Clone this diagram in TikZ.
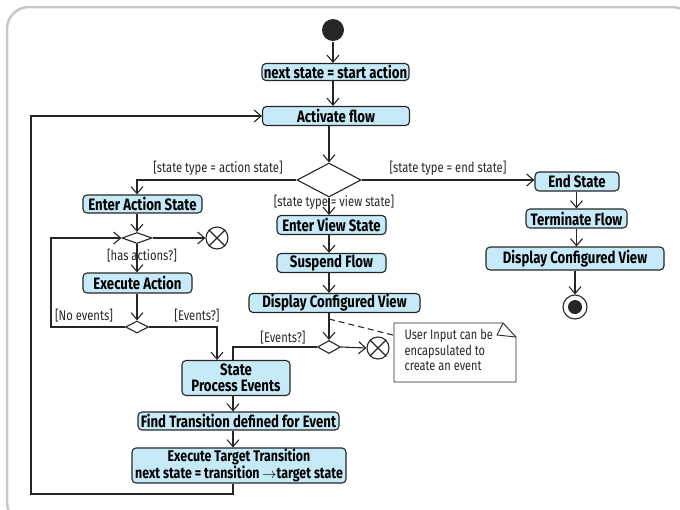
\documentclass[tikz,border=0pt]{standalone}
\usepackage{fontspec}
\setmainfont{Fira Sans}[FakeStretch=0.8]
\usetikzlibrary{shapes.geometric,arrows.meta,calc}
\definecolor{actblue}{HTML}{C6EAF8}
\definecolor{lineclr}{HTML}{262626}
\definecolor{framegray}{HTML}{C8C8C8}

\begin{document}
\begin{tikzpicture}[
  x = 1pt, y = -1pt,
  line width = 1.1pt,
  act/.style = {draw=lineclr, fill=actblue, rounded corners=4pt, inner sep=0pt,
    minimum height=19pt, align=center, font=\fontsize{16.5}{15.5}\selectfont\bfseries},
  dec/.style = {draw=lineclr, fill=white, diamond, inner sep=0pt},
  flowend/.style = {draw=lineclr, fill=white, circle, minimum size=22pt, inner sep=0pt},
  guard/.style = {font=\fontsize{14}{14}\selectfont, text=lineclr, inner sep=1pt},
  arr/.style = {draw=lineclr, -{Straight Barb[length=7pt,width=12pt]}}
]
\useasboundingbox (0,0) rectangle (680,509);

% frame
\draw[framegray, line width=2.5pt, rounded corners=22pt] (7,7) rectangle (694,524);

% start and initial actions
\node[circle, fill=lineclr, minimum size=22pt, inner sep=0pt] (start) at (333,30) {};
\node[act, minimum width=147pt, minimum height=17pt] (nsa) at (335.5,72) {next state = start action};
\node[act, minimum width=147pt] (activate) at (336,116) {Activate flow};
\node[dec, minimum width=64pt, minimum height=34pt] (dec) at (329,180) {};

% action state branch
\node[act, minimum width=119pt, minimum height=18pt] (enteraction) at (142.5,204) {Enter Action State};
\node[dec, minimum width=30pt, minimum height=11pt] (d1) at (137,238) {};
\node[flowend] (stop1) at (217,238) {};
\node[act, minimum width=109pt, minimum height=20pt] (execaction) at (137.5,283) {Execute Action};
\node[dec, minimum width=23pt, minimum height=12pt] (d2) at (137,327) {};

% view state branch
\node[act, minimum width=109pt] (enterview) at (331.5,225) {Enter View State};
\node[act, minimum width=109pt] (suspend) at (331.5,263) {Suspend Flow};
\node[act, minimum width=171pt] (displayv) at (334.5,303) {Display Configured View};
\node[dec, minimum width=23pt, minimum height=13pt] (d3) at (329,347) {};
\node[flowend] (stop2) at (378,348) {};

% events
\node[act, minimum width=108pt, minimum height=35pt] (process) at (236,378) {State\\Process Events};
\node[act, minimum width=201pt, minimum height=18pt] (findtr) at (238.5,421) {Find Transition defined for Event};
\node[act, minimum width=214pt, minimum height=35pt, font=\fontsize{15.5}{15.5}\selectfont\bfseries] (exectr) at (239,465.5)
  {Execute Target Transition\\next state = transition\,$\rightarrow$target state};

% end state branch
\node[act, minimum width=84pt] (endst) at (577,181.5) {End State};
\node[act, minimum width=101pt] (termf) at (576.5,218.5) {Terminate Flow};
\node[act, minimum width=178pt, minimum height=23pt] (displaye) at (575,258.5) {Display Configured View};
\node[circle, draw=lineclr, fill=white, minimum size=24pt, inner sep=0pt] (endc) at (575,307) {};
\fill[lineclr] (endc) circle (7pt);

% note
\node[align=left, anchor=north west, inner sep=0pt, font=\fontsize{13.8}{15.5}\selectfont, text=lineclr]
  (notetxt) at (404,329) {User Input can be\\encapsulated to\\create an event};
\coordinate (note) at (394,323);
\draw[lineclr, line width=0.9pt] (note) -- (503,323) -- (516,337) -- (516,382) -- (394,382) -- cycle;
\draw[lineclr, line width=0.9pt] (503,323) -- (497,335) -- (516,337);

% stop crosses
\foreach \s in {stop1, stop2}
  \draw[lineclr] (\s.45) -- (\s.225) (\s.135) -- (\s.315);

% connectors
\coordinate (pc) at (233,0);
\coordinate (lefta) at (51,327);
\coordinate (loopb) at (31,494);
\draw[arr] (start) -- (start |- nsa.north);
\draw[arr] (start |- nsa.south) -- (start |- activate.north);
\draw[arr] (dec.north |- activate.south) -- (dec.north);
\draw[arr] (dec.west) -| (d1 |- enteraction.north);
\draw[arr] (d1 |- enteraction.south) -- (d1.north);
\draw[arr] (d1.east) -- (stop1.west);
\draw[arr] (d1.south) -- (d1 |- execaction.north);
\draw[arr] (d1 |- execaction.south) -- (d2.north);
\draw[arr] (d2.west) -- (lefta) |- (d1.west);
\draw[arr] (d2.east) -| (stop1 |- process.north);

\draw[arr] (dec.south) -- (dec.south |- enterview.north);
\draw[arr] (dec |- enterview.south) -- (dec |- suspend.north);
\draw[arr] (dec |- suspend.south) -- (dec |- displayv.north);
\draw[arr] (dec |- displayv.south) -- (d3.north);
\draw[arr] (d3.east) -- (stop2.west);
\draw[lineclr] (d3.west) -| (pc |- process.north);
\draw[lineclr, dashed, dash pattern=on 6pt off 4pt] ($(dec |- displayv.south)+(0,6)$) -- (393,335);

\draw[arr] (pc |- process.south) -- (pc |- findtr.north);
\draw[arr] (pc |- findtr.south) -- (pc |- exectr.north);
\draw[arr] (pc |- exectr.south) |- (loopb) |- (activate.west);

\draw[arr] (dec.east) -- (dec.east -| endst.west);
\draw[arr] (termf |- endst.south) -- (termf.north);
\draw[arr] (termf.south) -- (termf |- displaye.north);
\draw[arr] (endc |- displaye.south) -- (endc.north);

% guards
\node[guard] (gaction) at (218,168) {[state type = action state]};
\node[guard] (gview) at (334,202) {[state type = view state]};
\node[guard] (gend) at (448,168) {[state type = end state]};
\node[guard] (ghas) at (142,256) {[has actions?]};
\node[guard] (gno) at (84,316) {[No events]};
\node[guard] (gev1) at (197,316) {[Events?]};
\node[guard] (gev2) at (283,338) {[Events?]};
\end{tikzpicture}
\end{document}
